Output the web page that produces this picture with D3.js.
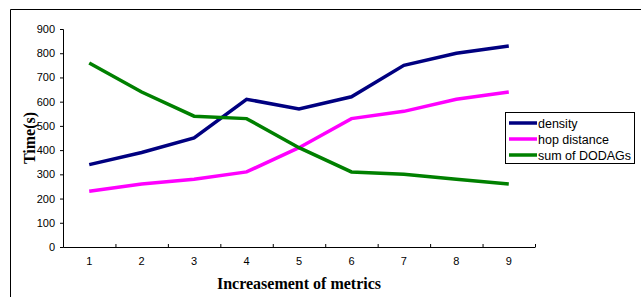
<!DOCTYPE html>
<html>
<head>
<meta charset="utf-8">
<script src="https://cdn.jsdelivr.net/npm/d3@7"></script>
<style>
  body { margin: 0; background: #fff; }
  svg { display: block; }
  .tick text { font-family: "Liberation Sans", Arial, sans-serif; font-size: 11px; fill: #000; }
</style>
</head>
<body>
<svg width="641" height="297"></svg>
<script>
let categories = ["1", "2", "3", "4", "5", "6", "7", "8", "9"];
let density = [340, 390, 450, 610, 570, 620, 750, 800, 830];
let hopDistance = [230, 260, 280, 310, 410, 530, 560, 610, 640];
let sumDodags = [760, 640, 540, 530, 410, 310, 300, 280, 260];
let seriesNames = ["density", "hop distance", "sum of DODAGs"];
let seriesColors = ["#000080", "#ff00ff", "#008000"];
let yTicks = [0, 100, 200, 300, 400, 500, 600, 700, 800, 900];

let svg = d3.select("svg");
let plotLeft = 63, plotRight = 535, plotTop = 29, plotBottom = 247;

// outer frame (only top and left edges show)
svg.append("path")
    .attr("d", "M10.5,297 L10.5,9.5 L641,9.5")
    .attr("fill", "none")
    .attr("stroke", "#000")
    .attr("stroke-width", 1);

let x = d3.scaleBand().domain(categories).range([plotLeft, plotRight]);
let xEdges = d3.scaleLinear().domain([0, categories.length]).range([plotLeft, plotRight]);
let y = d3.scaleLinear().domain([0, 900]).range([plotBottom, plotTop]);

// y axis
let yAxis = svg.append("g")
    .attr("transform", "translate(" + plotLeft + ",0)")
    .call(d3.axisLeft(y).tickValues(yTicks).tickSize(3).tickPadding(5));
yAxis.selectAll("line, path").attr("stroke", "#000");

// x axis: tick marks on band edges, labels at band centres
let xTickG = svg.append("g")
    .attr("transform", "translate(0," + plotBottom + ")")
    .call(d3.axisBottom(xEdges).ticks(9).tickSize(-3).tickSizeOuter(0).tickFormat(""));
xTickG.selectAll("line, path").attr("stroke", "#000");
xTickG.selectAll(".tick").filter(d => d === 0).remove();

let xLabG = svg.append("g")
    .attr("transform", "translate(0," + plotBottom + ")")
    .call(d3.axisBottom(x).tickSize(0).tickPadding(10));
xLabG.select(".domain").remove();

// axis titles
svg.append("text")
    .attr("x", 299)
    .attr("y", 289)
    .attr("text-anchor", "middle")
    .style("font-family", "'Liberation Serif', 'Times New Roman', serif")
    .style("font-weight", "bold")
    .style("font-size", "16px")
    .text("Increasement of metrics");

svg.append("text")
    .attr("transform", "translate(35,138) rotate(-90)")
    .attr("text-anchor", "middle")
    .style("font-family", "'Liberation Serif', 'Times New Roman', serif")
    .style("font-weight", "bold")
    .style("font-size", "16px")
    .text("Time(s)");

// lines
let allSeries = [density, hopDistance, sumDodags];
let line = d3.line()
    .x((d, i) => x(categories[i]) + x.bandwidth() / 2)
    .y(d => y(d));

svg.selectAll(".series").data(allSeries).enter().append("path")
    .attr("class", "series")
    .attr("fill", "none")
    .attr("stroke", (d, i) => seriesColors[i])
    .attr("stroke-width", 3.5)
    .attr("d", line);

// legend
let legend = svg.append("g").attr("transform", "translate(505,112)");
legend.append("rect")
    .attr("x", 0.5).attr("y", 0.5)
    .attr("width", 129).attr("height", 51)
    .attr("fill", "#fff")
    .attr("stroke", "#000");
seriesNames.forEach(function(name, i) {
    let ly = 11 + i * 16;
    legend.append("line")
        .attr("x1", 4).attr("x2", 32)
        .attr("y1", ly).attr("y2", ly)
        .attr("stroke", seriesColors[i])
        .attr("stroke-width", 3.5);
    legend.append("text")
        .attr("x", 33)
        .attr("y", ly + 4.5)
        .style("font-family", "'Liberation Sans', Arial, sans-serif")
        .style("font-size", "12.5px")
        .text(name);
});
</script>
</body>
</html>
